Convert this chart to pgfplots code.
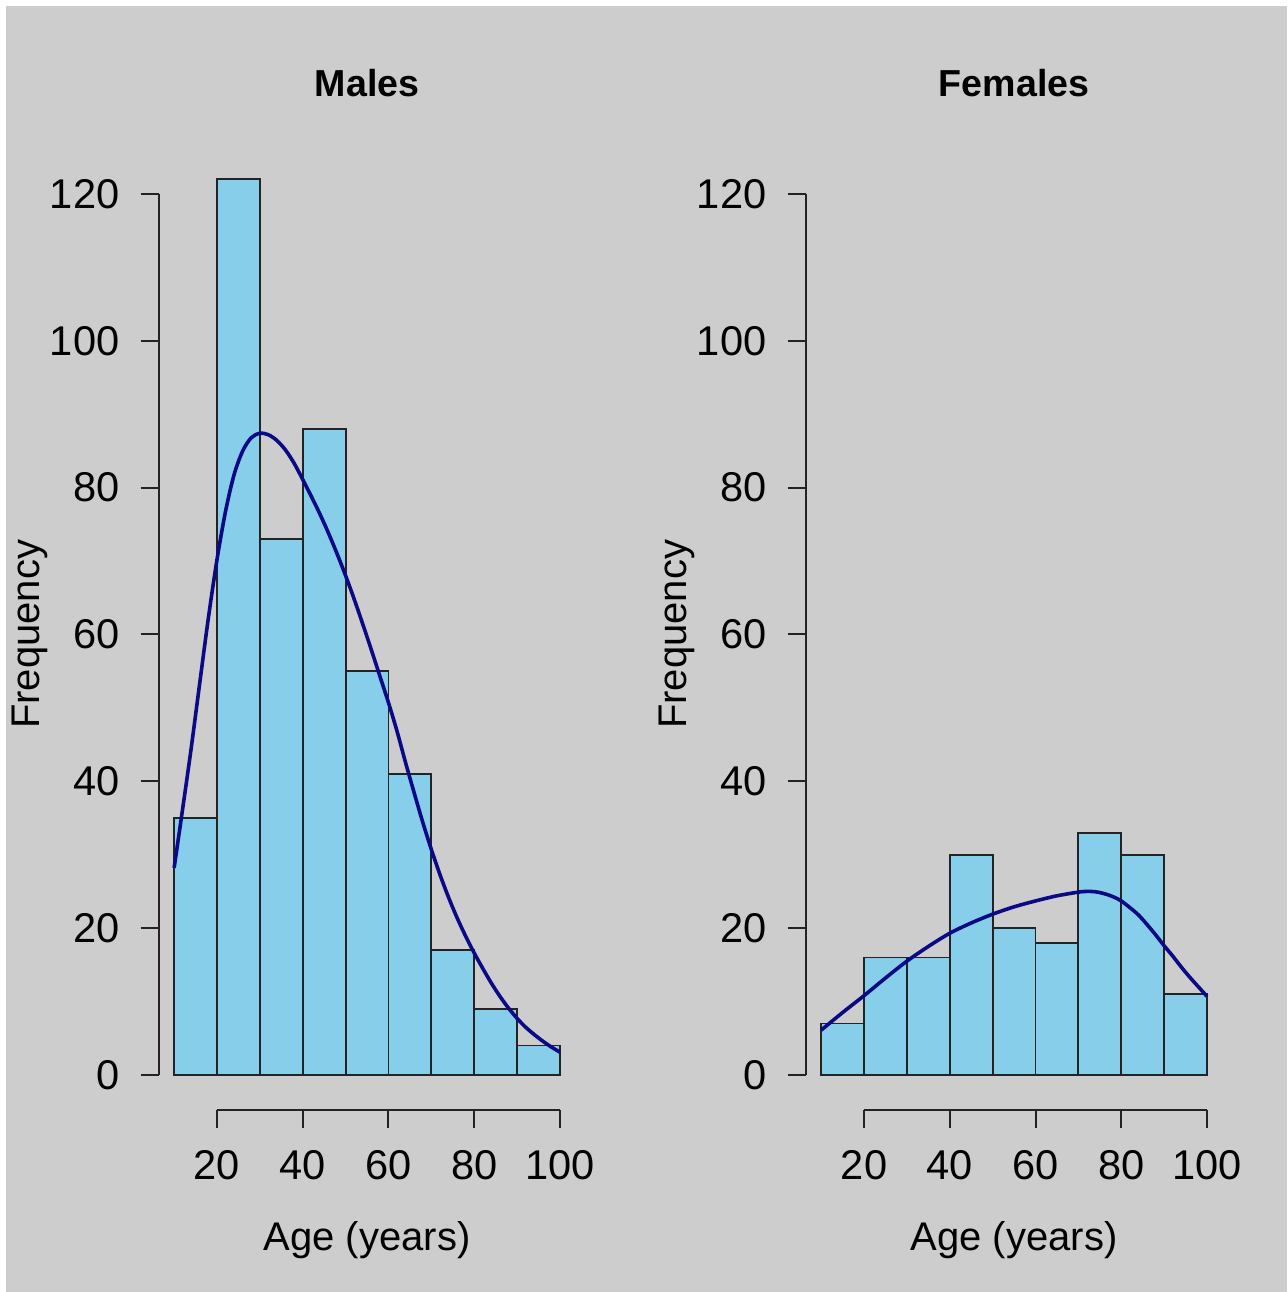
\documentclass[border=0pt]{standalone}
\usepackage{pgfplots}
\pgfplotsset{compat=1.18}
\usepackage{fontspec}
\setmainfont{Liberation Sans}
\definecolor{bg}{RGB}{205,205,205}
\definecolor{barfill}{RGB}{135,206,235}
\definecolor{curvecol}{RGB}{10,10,135}
\definecolor{edge}{RGB}{35,35,35}

\pgfplotsset{rstyle/.style={
  scale only axis, width=104.175pt, height=237.875pt,
  xmin=6.4, xmax=103.6, ymin=-4.8, ymax=124.8,
  clip=false,
  axis line style={draw=none},
  tick align=outside, xtick pos=left, ytick pos=left,
  xtick={20,40,60,80,100}, ytick={0,20,40,60,80,100,120},
  minor tick num=0,
  major tick length=4.5pt,
  tick style={draw=edge, line width=0.5pt},
  /pgf/number format/assume math mode=true,
  tick label style={font=\fontsize{10.4}{12}\selectfont, text=black},
  yticklabel style={xshift=-1.8pt},
  xticklabel style={yshift=-2.1pt},
  every axis title/.style={at={(axis description cs:0.5,1)}, anchor=center, yshift=18.9pt, font=\fontsize{9.4}{11}\selectfont\bfseries},
  every axis x label/.style={at={(axis description cs:0.5,0)}, anchor=center, yshift=-32.5pt, font=\fontsize{10}{12}\selectfont},
  every axis y label/.style={at={(axis description cs:0,0.5)}, xshift=-32.2pt, rotate=90, anchor=center, font=\fontsize{10}{12}\selectfont},
  xlabel={Age (years)}, ylabel={Frequency},
}}

\begin{document}
\begin{tikzpicture}
\useasboundingbox (0,0) rectangle (321.75pt,323pt);
\fill[white] (0,0) rectangle (321.75pt,323pt);
\fill[bg] (1.5pt,0) rectangle (321.75pt,321.5pt);

% Males
\begin{axis}[rstyle, at={(39.675pt,45.45pt)}, anchor=south west, title={Males}]
\addplot[ybar interval, fill=barfill, draw=edge, line width=0.45pt] coordinates {
(10,35) (20,122) (30,73) (40,88) (50,55) (60,41) (70,17) (80,9) (90,4) (100,4)};
\addplot[curvecol, line width=0.9pt, smooth, mark=none] table {
x y
10 28.2
12 36.3
14 44.6
16 53.5
18 62.3
20 70.2
22 76.8
24 81.8
26 85.0
28 86.8
30 87.4
32 87.2
34 86.4
36 85.1
38 83.3
40 81.1
42 78.8
44 76.4
46 73.8
48 71.0
50 68.0
52 64.8
54 61.4
56 57.9
58 54.3
60 50.7
62 46.8
64 42.5
66 38.4
68 34.4
70 30.7
72 27.3
74 24.2
76 21.4
78 18.9
80 16.6
82 14.5
84 12.5
86 10.7
88 9.1
90 7.7
92 6.5
94 5.5
96 4.6
98 3.8
100 3.1
};
\draw[edge, line width=0.5pt] (axis cs:6.4,0) -- (axis cs:6.4,120);
\draw[edge, line width=0.5pt] (axis cs:20,-4.8) -- (axis cs:100,-4.8);
\end{axis}

% Females
\begin{axis}[rstyle, at={(201.425pt,45.45pt)}, anchor=south west, title={Females}]
\addplot[ybar interval, fill=barfill, draw=edge, line width=0.45pt] coordinates {
(10,7) (20,16) (30,16) (40,30) (50,20) (60,18) (70,33) (80,30) (90,11) (100,11)};
\addplot[curvecol, line width=0.9pt, smooth, mark=none] table {
x y
10 6.1
15 8.5
20 10.8
25 13.2
30 15.5
35 17.5
40 19.3
45 20.7
50 21.9
55 22.9
60 23.7
65 24.4
70 24.9
72 25.0
74 24.95
76 24.7
78 24.3
80 23.7
82 22.8
84 21.8
86 20.5
88 19.1
90 17.6
92 16.2
94 14.7
96 13.3
98 12.0
100 10.7
};
\draw[edge, line width=0.5pt] (axis cs:6.4,0) -- (axis cs:6.4,120);
\draw[edge, line width=0.5pt] (axis cs:20,-4.8) -- (axis cs:100,-4.8);
\end{axis}
\end{tikzpicture}
\end{document}
